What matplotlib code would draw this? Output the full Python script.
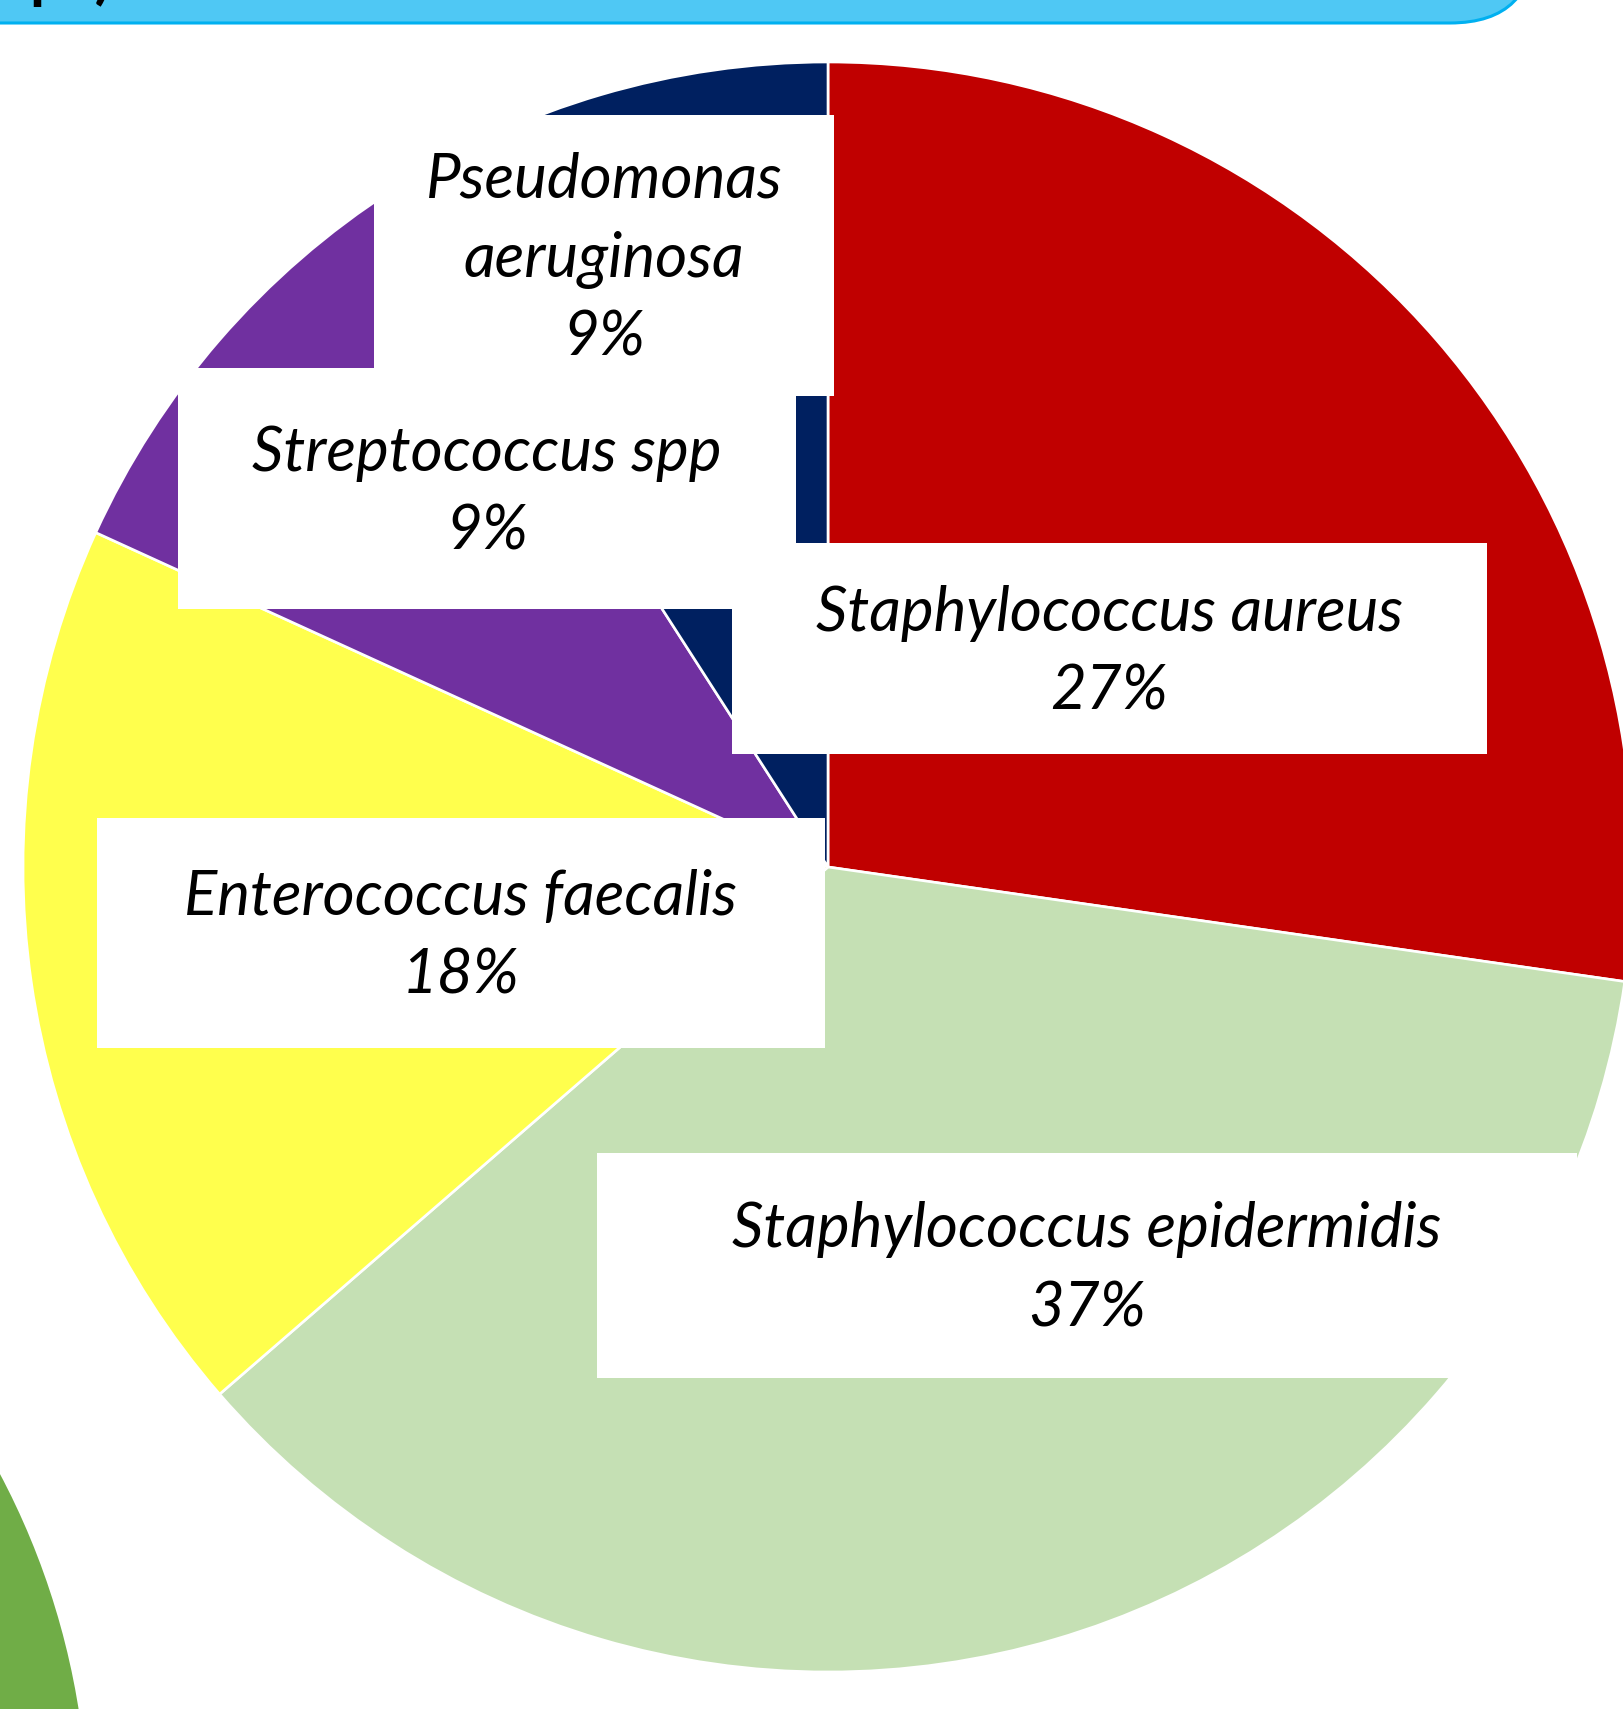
import matplotlib
matplotlib.use("Agg")
import matplotlib.pyplot as plt
from matplotlib.patches import Rectangle, Circle, FancyBboxPatch

W, H = 1624, 1709

# datos del grafico (sentido horario desde arriba)
species = ["Staphylococcus aureus", "Staphylococcus epidermidis",
           "Enterococcus faecalis", "Streptococcus spp", "Pseudomonas aeruginosa"]
counts = [3, 4, 2, 1, 1]
pct_labels = ["27%", "37%", "18%", "9%", "9%"]
colors = ["#C00000", "#C5E0B4", "#FFFF4D", "#7030A0", "#002060"]
wrap_name = [False, False, False, False, True]

# cajas de etiqueta en pixeles de imagen (izq, arriba, der, abajo)
boxes = [(732, 543, 1487, 754),
         (597, 1153, 1577, 1378),
         (97, 818, 825, 1048),
         (178, 368, 796, 609),
         (374, 115, 834, 396)]

FONT = ["Lato", "DejaVu Sans"]

fig = plt.figure(figsize=(W / 100, H / 100), dpi=100)
ax = fig.add_axes([0, 0, 1, 1])

# circulo verde abajo a la izquierda
ax.add_patch(Circle((-668, H - 1828), 756, facecolor="#70AD47", edgecolor="none", zorder=1))

# banda azul de arriba (titulo cortado)
ax.add_patch(FancyBboxPatch((-300, H - 23), 1835, 300,
                            boxstyle="round,pad=0,rounding_size=85",
                            facecolor="#4FC8F4", edgecolor="#00B0F0", linewidth=2.2, zorder=1))
ax.text(30, H + 3, "p  )", fontsize=44, fontweight="bold", color="black",
        va="baseline", ha="left", family=FONT, zorder=2)

wedges, _ = ax.pie(counts, colors=colors, startangle=90, counterclock=False,
                   center=(828, H - 867), radius=805,
                   wedgeprops=dict(edgecolor="white", linewidth=1.9))
for w in wedges:
    w.set_zorder(2)

ax.set_xlim(0, W)
ax.set_ylim(0, H)
ax.set_aspect("equal", adjustable="box")
ax.axis("off")

# tamaño de letra ajustado al ancho del texto de referencia
probe = ax.text(0, 0, "Staphylococcus epidermidis", fontsize=40, style="italic", family=FONT)
fig.canvas.draw()
pw = probe.get_window_extent().width
probe.remove()
fs = 40 * 709 / pw

for i in range(len(species)):
    x0, y0, x1, y1 = boxes[i]
    ax.add_patch(Rectangle((x0, H - y1), x1 - x0, y1 - y0, facecolor="white",
                           edgecolor="none", zorder=3))
    if wrap_name[i]:
        lines = species[i].split(" ") + [pct_labels[i]]
    else:
        lines = [species[i], pct_labels[i]]
    n = len(lines)
    cx = (x0 + x1) / 2
    cy = (y0 + y1) / 2
    for j, txt in enumerate(lines):
        yb = cy + 21.5 + 79 * (j - (n - 1) / 2)
        ax.text(cx, H - yb, txt, fontsize=fs, style="italic", family=FONT,
                ha="center", va="baseline", color="black", zorder=4)

fig.savefig("out.png", dpi=100)
